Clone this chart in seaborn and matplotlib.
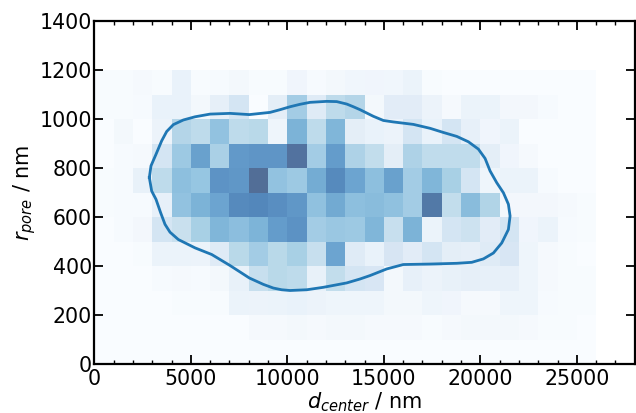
import numpy as np
import pandas as pd
import matplotlib
matplotlib.use("Agg")
import matplotlib.pyplot as plt
from matplotlib.ticker import MultipleLocator
import seaborn as sns

# Bin edges of the 2D histogram
x_edges = np.arange(0, 27000, 1000)
y_edges = np.arange(0, 1300, 100)

# Cell intensity per row (darkest cell = 100)
row_1100 = [1, 1, 3, 1, 11, 1, 2, 4, 1, 1, 7, 2, 4, 6, 7, 6, 10, 1, 0, 0, 0, 0, 0, 0, 0, 0]
row_1000 = [1, 1, 2, 11, 11, 4, 14, 26, 0, 15, 46, 19, 36, 40, 4, 17, 17, 9, 3, 10, 10, 5, 5, 2, 0, 0]
row_900 = [0, 4, 0, 9, 40, 36, 52, 36, 38, 8, 62, 36, 60, 15, 11, 9, 26, 11, 26, 13, 7, 10, 0, 0, 0, 0]
row_800 = [0, 2, 3, 26, 48, 72, 43, 76, 78, 78, 97, 46, 74, 42, 34, 15, 42, 35, 35, 35, 15, 7, 3, 0, 0, 0]
row_700 = [1, 2, 12, 36, 54, 50, 79, 77, 100, 52, 48, 66, 84, 70, 54, 72, 46, 60, 44, 26, 8, 10, 10, 2, 0, 0]
row_600 = [1, 2, 2, 13, 52, 62, 70, 84, 86, 82, 77, 53, 67, 54, 56, 53, 46, 94, 34, 56, 41, 5, 5, 5, 3, 1]
row_500 = [0, 2, 5, 26, 31, 44, 60, 55, 61, 74, 80, 46, 49, 48, 60, 32, 62, 10, 26, 29, 17, 26, 7, 10, 2, 1]
row_400 = [0, 0, 1, 10, 10, 9, 19, 38, 46, 38, 44, 32, 70, 19, 11, 25, 17, 26, 15, 14, 19, 24, 8, 3, 1, 0]
row_300 = [0, 0, 0, 2, 3, 2, 4, 12, 32, 38, 36, 12, 34, 26, 24, 4, 13, 9, 12, 14, 13, 13, 8, 3, 1, 1]
row_200 = [0, 0, 0, 0, 1, 1, 1, 10, 9, 10, 11, 9, 8, 8, 8, 4, 4, 8, 7, 3, 3, 8, 8, 2, 1, 1]
row_100 = [0, 0, 0, 0, 0, 0, 0, 0, 3, 3, 4, 3, 4, 4, 3, 3, 3, 1, 3, 4, 4, 4, 3, 1, 1, 0]
row_0 = [0] * 26

# Outline of the contour
contour_x = [2851, 2938, 3197, 3491, 3750, 4095, 4613, 5218, 5995, 7031, 8033, 9104, 9622,
             10140, 10658, 11176, 12041, 12558, 13078, 13420, 13767, 14456, 14974, 15492,
             16010, 16528, 17394, 18085, 18776, 19380, 19898, 20244, 20503, 20848, 21193,
             21452, 21539, 21452, 21107, 20675, 20157, 19553, 18776, 17394, 16010, 15150,
             14285, 13767, 13078, 12472, 11865, 11005, 10140, 9708, 9275, 8757, 8033, 7031,
             6081, 5218, 4354, 3922, 3663, 3439, 3197, 2972, 2851]
contour_y = [761, 809, 856, 911, 949, 977, 996, 1009, 1020, 1023, 1018, 1027, 1038,
             1050, 1060, 1068, 1072, 1071, 1061, 1050, 1038, 1011, 994, 988,
             983, 978, 962, 945, 929, 907, 877, 839, 788, 740, 699,
             652, 604, 549, 494, 453, 429, 415, 411, 408, 406, 388,
             361, 347, 331, 322, 313, 303, 300, 303, 310, 325, 351, 402,
             447, 474, 508, 538, 570, 617, 672, 706, 761]

rows = {0: row_0, 100: row_100, 200: row_200, 300: row_300, 400: row_400, 500: row_500,
        600: row_600, 700: row_700, 800: row_800, 900: row_900, 1000: row_1000, 1100: row_1100}
df = pd.DataFrame(rows, index=x_edges[:-1] + 500)
df = df.reset_index().melt(id_vars="index", var_name="y", value_name="w")
df["y"] = df["y"].astype(float) + 50

fig = plt.figure(figsize=(6.36, 4.13), dpi=100)
ax = fig.add_axes([94.3 / 636, 1 - 364 / 413, 540.5 / 636, 343 / 413])

sns.histplot(data=df, x="index", y="y", weights="w", bins=[x_edges, y_edges],
             cmap="Blues", thresh=None, alpha=0.7, vmin=0, vmax=100, ax=ax)
sns.lineplot(x=contour_x, y=contour_y, sort=False, estimator=None, color="#1f77b4",
             linewidth=2, ax=ax)

ax.set_xlim(0, 28000)
ax.set_ylim(0, 1400)
ax.xaxis.set_major_locator(MultipleLocator(5000))
ax.xaxis.set_minor_locator(MultipleLocator(1000))
ax.yaxis.set_major_locator(MultipleLocator(200))
ax.tick_params(which="both", top=True, right=True, direction="in")
ax.tick_params(which="major", length=6.5, width=1.3, labelsize=14.8)
ax.tick_params(which="minor", length=3, width=1)
ax.tick_params(axis="x", which="major", pad=3.5)
ax.tick_params(axis="y", which="major", pad=1.5)
for spine in ax.spines.values():
    spine.set_linewidth(1.6)
ax.set_xlabel("$d_{center}$ / nm", fontsize=15, labelpad=1)
ax.set_ylabel("$r_{pore}$ / nm", fontsize=15, labelpad=1.5)

fig.savefig("out.png", dpi=100)
